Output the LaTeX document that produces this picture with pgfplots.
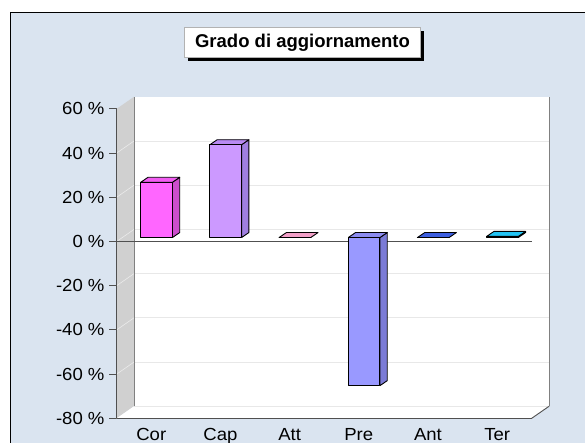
\documentclass[border=0pt]{standalone}
\usepackage{fontspec}
\setmainfont{Liberation Sans}
\newfontfamily\lab{Liberation Sans}[FakeStretch=1.06]
\usepackage{pgfplots}
\pgfplotsset{compat=1.18}
\definecolor{bgblue}{HTML}{DAE4F0}
\definecolor{sidegray}{HTML}{D0D0D0}
\definecolor{gridc}{HTML}{E8E8E8}
\definecolor{axisc}{HTML}{505050}
\definecolor{corF}{HTML}{FF66FF}
\definecolor{corT}{HTML}{F25CF2}
\definecolor{corS}{HTML}{CC4DCC}
\definecolor{capF}{HTML}{CC99FF}
\definecolor{capT}{HTML}{B98AF2}
\definecolor{capS}{HTML}{A07FE0}
\definecolor{attF}{HTML}{F2A0C8}
\definecolor{preF}{HTML}{9999FF}
\definecolor{preT}{HTML}{8C8CF0}
\definecolor{preS}{HTML}{7B7BD6}
\definecolor{antF}{HTML}{3D5FE0}
\definecolor{terF}{HTML}{22C4F4}
\newcommand\ticklab{\lab\fontsize{17.5bp}{19bp}\selectfont}
\begin{document}
\begin{tikzpicture}
\path[use as bounding box] (0bp,0bp) rectangle (585bp,443bp);
\clip (0bp,0bp) rectangle (585bp,443bp);
\draw[line width=1bp, fill=bgblue] (10.5bp,430bp) rectangle (620bp,-20bp);
% title box
\fill[black] (187.5bp,382.4bp) rectangle (424bp,412.4bp);
\draw[draw=gray!60, fill=white, line width=0.6bp] (184.3bp,385.7bp) rectangle (420.7bp,415.7bp);
\node[font=\bfseries\fontsize{18.5bp}{20bp}\selectfont, inner sep=0pt] at (302.5bp,400.7bp) {Grado di aggiornamento};

\begin{axis}[
  at={(116.7bp,24.7bp)}, anchor=south west,
  x=69.17bp, y=2.2107bp,
  xmin=-0.5, xmax=5.5, ymin=-80, ymax=60,
  clip=false,
  axis line style={draw=none},
  ytick={-80,-60,-40,-20,0,20,40,60},
  yticklabels={-80 \%,-60 \%,-40 \%,-20 \%,0 \%,20 \%,40 \%,60 \%},
  xtick={0,1,2,3,4,5},
  xticklabels={Cor,Cap,Att,Pre,Ant,Ter},
  ytick pos=left,
  tick align=outside,
  major tick length=7.5bp,
  ytick style={draw=axisc, line width=0.8bp},
  xtick style={draw=none},
  tick label style={font=\ticklab, text=black},
  yticklabel style={anchor=east, inner sep=0pt, xshift=-4.5bp},
  xticklabel style={anchor=base, inner sep=0pt, yshift=-14.5bp},
]
% side wall
\fill[sidegray] (axis cs:-0.5,-80) -- (axis cs:-0.247,-74.5) -- (axis cs:-0.247,65.5) -- (axis cs:-0.5,60) -- cycle;
% back wall
\fill[white] (axis cs:-0.247,-74.5) rectangle (axis cs:5.753,65.5);
% floor
\fill[white] (axis cs:-0.5,-80) -- (axis cs:5.5,-80) -- (axis cs:5.753,-74.5) -- (axis cs:-0.247,-74.5) -- cycle;
% grid lines on back wall
\draw[gridc, line width=0.7bp] (axis cs:-0.247,-54.5) -- (axis cs:5.753,-54.5);
\draw[gridc, line width=0.7bp] (axis cs:-0.247,-34.5) -- (axis cs:5.753,-34.5);
\draw[gridc, line width=0.7bp] (axis cs:-0.247,-14.5) -- (axis cs:5.753,-14.5);
\draw[gridc, line width=0.7bp] (axis cs:-0.247,5.5) -- (axis cs:5.753,5.5);
\draw[gridc, line width=0.7bp] (axis cs:-0.247,25.5) -- (axis cs:5.753,25.5);
\draw[gridc, line width=0.7bp] (axis cs:-0.247,45.5) -- (axis cs:5.753,45.5);
\draw[gridc, line width=0.7bp] (axis cs:-0.247,-74.5) -- (axis cs:5.753,-74.5);
% diagonal grid lines on side wall
\draw[white!92!black, line width=0.6bp] (axis cs:-0.5,-60) -- (axis cs:-0.247,-54.5);
\draw[white!92!black, line width=0.6bp] (axis cs:-0.5,-40) -- (axis cs:-0.247,-34.5);
\draw[white!92!black, line width=0.6bp] (axis cs:-0.5,-20) -- (axis cs:-0.247,-14.5);
\draw[white!92!black, line width=0.6bp] (axis cs:-0.5,0) -- (axis cs:-0.247,5.5);
\draw[white!92!black, line width=0.6bp] (axis cs:-0.5,20) -- (axis cs:-0.247,25.5);
\draw[white!92!black, line width=0.6bp] (axis cs:-0.5,40) -- (axis cs:-0.247,45.5);
% wall edges
\draw[gray, line width=0.8bp] (axis cs:-0.247,-74.5) -- (axis cs:-0.247,65.5);
\draw[gray, line width=0.8bp] (axis cs:5.753,-74.5) -- (axis cs:5.753,65.5);
\draw[axisc, line width=0.9bp] (axis cs:5.5,-80) -- (axis cs:5.753,-74.5);
\draw[axisc, line width=0.9bp] (axis cs:-0.5,-80) -- (axis cs:5.5,-80);
\draw[axisc, line width=0.9bp] (axis cs:-0.5,-80) -- (axis cs:-0.5,60);
% zero line
\draw[axisc, line width=0.9bp] (axis cs:-0.5,0) -- (axis cs:5.5,0);
\end{axis}

\begin{axis}[
  at={(122bp,28.6bp)}, anchor=south west,
  x=69.17bp, y=2.2107bp,
  xmin=-0.5, xmax=5.5, ymin=-80, ymax=60,
  clip=false, hide axis,
  every axis plot/.append style={draw=black, line width=0.9bp, line join=round, mark=none},
]
% Cor = 25
\addplot[fill=corS] coordinates {(0.229,0) (0.3345,2.26) (0.3345,27.26) (0.229,25) (0.229,0)};
\addplot[fill=corT] coordinates {(-0.229,25) (0.229,25) (0.3345,27.26) (-0.1235,27.26) (-0.229,25)};
\addplot[ybar, bar width=31.7bp, bar shift=0pt, fill=corF] coordinates {(0,25)};
% Cap = 42
\addplot[fill=capS] coordinates {(1.229,0) (1.3345,2.26) (1.3345,44.26) (1.229,42) (1.229,0)};
\addplot[fill=capT] coordinates {(0.771,42) (1.229,42) (1.3345,44.26) (0.8765,44.26) (0.771,42)};
\addplot[ybar, bar width=31.7bp, bar shift=0pt, fill=capF] coordinates {(1,42)};
% Att = 0
\addplot[fill=attF] coordinates {(1.771,0) (2.229,0) (2.3345,2.26) (1.8765,2.26) (1.771,0)};
\addplot[ybar, bar width=31.7bp, bar shift=0pt, fill=attF] coordinates {(2,0)};
% Pre = -67
\addplot[fill=preS] coordinates {(3.229,-67) (3.3345,-64.74) (3.3345,2.26) (3.229,0) (3.229,-67)};
\addplot[fill=preT] coordinates {(2.771,0) (3.229,0) (3.3345,2.26) (2.8765,2.26) (2.771,0)};
\addplot[ybar, bar width=31.7bp, bar shift=0pt, fill=preF] coordinates {(3,-67)};
% Ant = 0
\addplot[fill=antF] coordinates {(3.771,0) (4.229,0) (4.3345,2.26) (3.8765,2.26) (3.771,0)};
\addplot[ybar, bar width=31.7bp, bar shift=0pt, fill=antF] coordinates {(4,0)};
% Ter = 0.5
\addplot[fill=terF!80!black] coordinates {(5.229,0) (5.3345,2.26) (5.3345,2.76) (5.229,0.5) (5.229,0)};
\addplot[fill=terF] coordinates {(4.771,0.5) (5.229,0.5) (5.3345,2.76) (4.8765,2.76) (4.771,0.5)};
\addplot[ybar, bar width=31.7bp, bar shift=0pt, fill=terF] coordinates {(5,0.5)};
\end{axis}
\end{tikzpicture}
\end{document}
